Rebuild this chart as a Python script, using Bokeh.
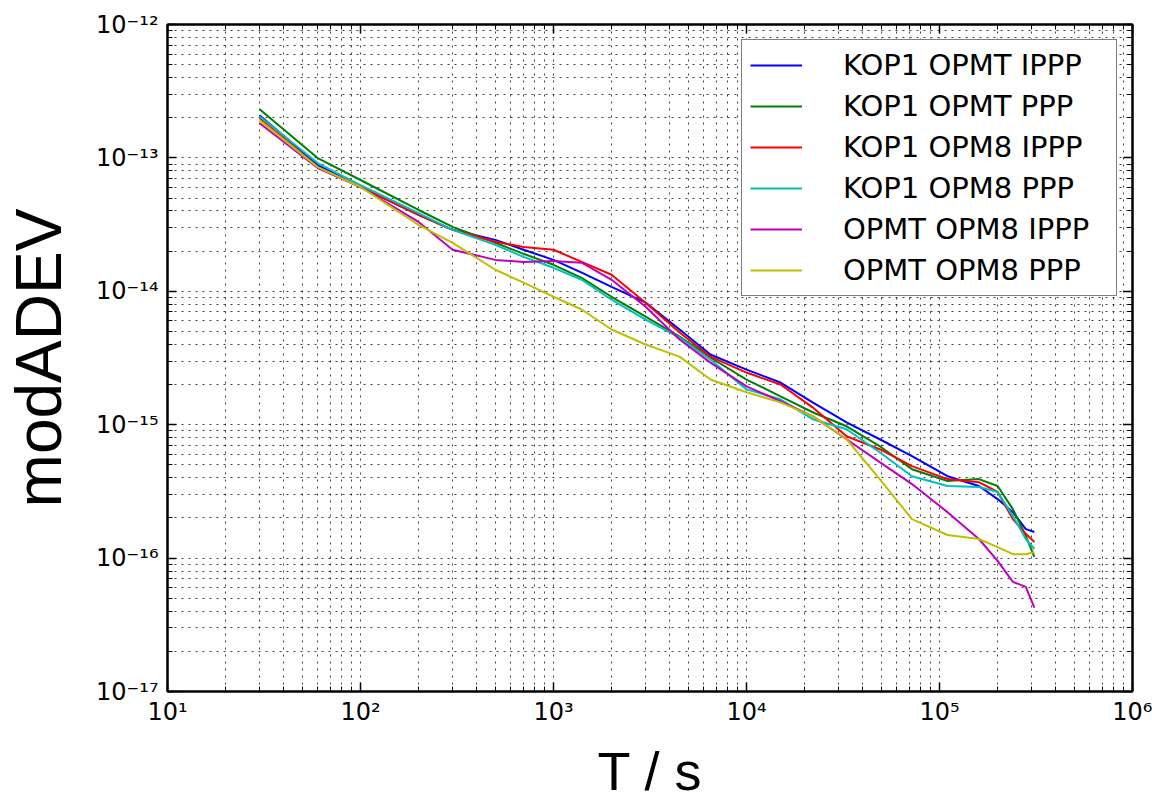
from bokeh.plotting import figure
from bokeh.models import LogAxis, FixedTicker, CustomJSTickFormatter
from bokeh.embed import file_html
from bokeh.resources import INLINE

# ---------------- data ----------------
tau = [30, 60, 100, 200, 300, 500, 700, 1000, 1400, 2000, 3000, 4500, 6500,
       1e4, 1.5e4, 2.2e4, 3.3e4, 4.9e4, 7.2e4, 1.1e5, 1.6e5, 2e5, 2.4e5, 2.8e5, 3.1e5]

kop1_opmt_ippp = [2.09e-13, 8.84e-14, 6.05e-14, 3.74e-14, 2.89e-14, 2.43e-14, 2.05e-14, 1.72e-14,
                  1.38e-14, 1.08e-14, 8.22e-15, 5.17e-15, 3.36e-15, 2.59e-15, 2.07e-15, 1.47e-15,
                  1.04e-15, 7.78e-16, 5.81e-16, 4.11e-16, 3.47e-16, 2.77e-16, 2.21e-16, 1.65e-16, 1.57e-16]
kop1_opmt_ppp = [2.32e-13, 9.98e-14, 6.83e-14, 4.07e-14, 3.04e-14, 2.31e-14, 1.91e-14, 1.58e-14,
                 1.26e-14, 9.1e-15, 6.46e-15, 4.58e-15, 3.19e-15, 2.18e-15, 1.63e-15, 1.24e-15,
                 9.73e-16, 6.90e-16, 4.64e-16, 3.78e-16, 3.91e-16, 3.47e-16, 2.33e-16, 1.47e-16, 1.02e-16]
kop1_opm8_ippp = [1.98e-13, 8.53e-14, 6.05e-14, 3.74e-14, 2.89e-14, 2.35e-14, 2.15e-14, 2.05e-14,
                  1.66e-14, 1.33e-14, 8.22e-15, 4.91e-15, 3.24e-15, 2.46e-15, 2.00e-15, 1.35e-15,
                  8.19e-16, 6.55e-16, 4.89e-16, 3.91e-16, 3.71e-16, 3.13e-16, 1.96e-16, 1.52e-16, 1.32e-16]
kop1_opm8_ppp = [2.05e-13, 9.15e-14, 6.26e-14, 3.86e-14, 2.89e-14, 2.23e-14, 1.81e-14, 1.50e-14,
                 1.22e-14, 8.65e-15, 6.13e-15, 4.50e-15, 3.08e-15, 1.84e-15, 1.55e-15, 1.10e-15,
                 9.24e-16, 6.22e-16, 4.11e-16, 3.47e-16, 3.41e-16, 3.13e-16, 2.07e-16, 1.39e-16, 1.17e-16]
opmt_opm8_ippp = [1.82e-13, 8.39e-14, 6.05e-14, 3.31e-14, 2.05e-14, 1.72e-14, 1.66e-14, 1.69e-14,
                  1.64e-14, 1.22e-14, 7.67e-15, 4.35e-15, 2.92e-15, 1.94e-15, 1.50e-15, 1.16e-15,
                  7.78e-16, 5.24e-16, 3.59e-16, 2.21e-16, 1.39e-16, 9.53e-17, 6.64e-17, 6.09e-17, 4.25e-17]
opmt_opm8_ppp = [1.92e-13, 8.53e-14, 6.05e-14, 3.15e-14, 2.31e-14, 1.45e-14, 1.16e-14, 9.1e-15,
                 7.30e-15, 5.17e-15, 3.99e-15, 3.24e-15, 2.18e-15, 1.75e-15, 1.47e-15, 1.16e-15,
                 7.78e-16, 3.91e-16, 1.96e-16, 1.49e-16, 1.39e-16, 1.21e-16, 1.07e-16, 1.07e-16, 1.11e-16]

series_names = ["KOP1 OPMT IPPP", "KOP1 OPMT PPP", "KOP1 OPM8 IPPP",
                "KOP1 OPM8 PPP", "OPMT OPM8 IPPP", "OPMT OPM8 PPP"]
series_values = [kop1_opmt_ippp, kop1_opmt_ppp, kop1_opm8_ippp,
                 kop1_opm8_ppp, opmt_opm8_ippp, opmt_opm8_ppp]
series_colors = ["#0000ff", "#008000", "#ff0000", "#00bfbf", "#bf00bf", "#bfbf00"]

x_tick_values = [1e1, 1e2, 1e3, 1e4, 1e5, 1e6]
x_tick_labels = ["10¹", "10²", "10³", "10⁴", "10⁵", "10⁶"]
y_tick_values = [1e-17, 1e-16, 1e-15, 1e-14, 1e-13, 1e-12]
y_tick_labels = ["10⁻¹⁷", "10⁻¹⁶", "10⁻¹⁵", "10⁻¹⁴", "10⁻¹³", "10⁻¹²"]

x_label = "T / s"
y_label = "modADEV"

# ---------------- figure ----------------
W, H = 1152, 803
ML, MR, MT, MB = 167, 20, 24, 110

p = figure(width=W, height=H, x_axis_type="log", y_axis_type="log",
           x_range=(1e1, 1e6), y_range=(1e-17, 1e-12),
           output_backend="svg", toolbar_location=None,
           min_border_left=ML, min_border_right=MR,
           min_border_top=MT, min_border_bottom=MB)
p.background_fill_color = "white"
p.border_fill_color = "white"
p.outline_line_color = "black"
p.outline_line_width = 2


def minor_of(majors):
    out = []
    for m in majors[:-1]:
        for k in range(2, 10):
            out.append(m * k)
    return out


x_ticker = FixedTicker(ticks=x_tick_values, minor_ticks=minor_of(x_tick_values))
y_ticker = FixedTicker(ticks=y_tick_values, minor_ticks=minor_of(y_tick_values))

fmt_code = """
const lt = Math.log10(tick);
for (let i = 0; i < vals.length; i++) {
  if (Math.abs(Math.log10(vals[i]) - lt) < 1e-6) return labels[i];
}
return "";
"""
x_fmt = CustomJSTickFormatter(args=dict(vals=x_tick_values, labels=x_tick_labels), code=fmt_code)
y_fmt = CustomJSTickFormatter(args=dict(vals=y_tick_values, labels=y_tick_labels), code=fmt_code)
blank_fmt = CustomJSTickFormatter(code='return "";')


def style_axis(ax, show_labels):
    ax.axis_line_color = "black"
    ax.axis_line_width = 2
    ax.major_tick_in = 9
    ax.major_tick_out = 0
    ax.minor_tick_in = 5
    ax.minor_tick_out = 0
    ax.major_tick_line_color = "black"
    ax.major_tick_line_width = 1.5
    ax.minor_tick_line_color = "black"
    ax.minor_tick_line_width = 1
    if show_labels:
        ax.major_label_text_font = "DejaVu Sans"
        ax.major_label_text_font_size = "24px"
        ax.major_label_text_color = "black"
    else:
        ax.major_label_text_font_size = "0px"
        ax.major_label_standoff = 0


xa = p.xaxis[0]
xa.ticker = x_ticker
xa.formatter = x_fmt
style_axis(xa, True)
xa.major_label_standoff = 6
xa.axis_label = x_label
xa.axis_label_text_font = "Liberation Sans"
xa.axis_label_text_font_size = "54px"
xa.axis_label_text_font_style = "normal"
xa.axis_label_text_color = "black"
xa.axis_label_standoff = 12

ya = p.yaxis[0]
ya.ticker = y_ticker
ya.formatter = y_fmt
style_axis(ya, True)
ya.major_label_standoff = 9
ya.axis_label = y_label
ya.axis_label_text_font = "Liberation Sans"
ya.axis_label_text_font_size = "64px"
ya.axis_label_text_font_style = "normal"
ya.axis_label_text_color = "black"
ya.axis_label_standoff = 18

top_ax = LogAxis(ticker=x_ticker, formatter=blank_fmt)
style_axis(top_ax, False)
p.add_layout(top_ax, "above")
right_ax = LogAxis(ticker=y_ticker, formatter=blank_fmt)
style_axis(right_ax, False)
p.add_layout(right_ax, "right")

for g in (p.xgrid[0], p.ygrid[0]):
    g.grid_line_color = "black"
    g.grid_line_alpha = 0.75
    g.grid_line_width = 1
    g.grid_line_dash = "2 5"
    g.minor_grid_line_color = "black"
    g.minor_grid_line_alpha = 0.75
    g.minor_grid_line_width = 1
    g.minor_grid_line_dash = "2 5"

for name, vals, col in zip(series_names, series_values, series_colors):
    p.line(tau, vals, line_color=col, line_width=2, legend_label=name)

leg = p.legend[0]
leg.location = "top_right"
leg.margin = 15
leg.padding = 8
leg.spacing = 7
leg.glyph_width = 52
leg.glyph_height = 30
leg.label_standoff = 41
leg.label_width = 265
leg.label_text_font = "DejaVu Sans"
leg.label_text_font_size = "29px"
leg.label_text_color = "black"
leg.border_line_color = "black"
leg.border_line_width = 1.5
leg.background_fill_color = "white"
leg.background_fill_alpha = 1.0

open("out.html", "w").write(file_html(p, INLINE))
